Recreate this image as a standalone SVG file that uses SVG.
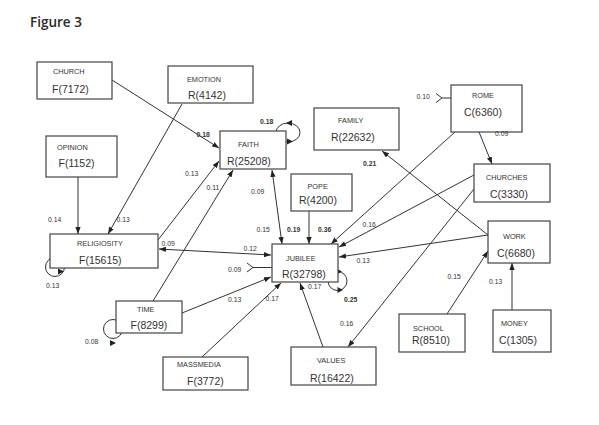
<svg xmlns="http://www.w3.org/2000/svg" width="599" height="425" viewBox="0 0 599 425">
<defs>
<style>
.box{fill:#fff;stroke:#444;stroke-width:1.2}
.lbl{font-family:"Liberation Sans",Arial,sans-serif;font-size:7.3px;fill:#333}
.val{font-family:"Liberation Sans",Arial,sans-serif;font-size:10.5px;fill:#333}
.num{font-family:"Liberation Sans",Arial,sans-serif;font-size:6.8px;fill:#333}
.b{font-weight:bold}
.ln{stroke:#333;stroke-width:1;fill:none}
.ar{fill:#222}
</style>
<marker id="ah" viewBox="0 0 8 6" refX="8" refY="3" markerWidth="7" markerHeight="5.5" markerUnits="userSpaceOnUse" orient="auto-start-reverse">
<path d="M0,0 L8,3 L0,6 z" fill="#222"/>
</marker>
</defs>
<rect width="599" height="425" fill="#fff"/>
<text x="30" y="27" font-family="'Open Sans','Liberation Sans',sans-serif" font-size="13.5" font-weight="600" fill="#2a2a2a">Figure 3</text>

<g id="connectors">
<line class="ln" x1="112" y1="80" x2="219" y2="148" marker-end="url(#ah)"/>
<line class="ln" x1="182" y1="104" x2="108" y2="234" marker-end="url(#ah)"/>
<line class="ln" x1="78" y1="177" x2="78" y2="234" marker-end="url(#ah)"/>
<line class="ln" x1="158" y1="240" x2="219" y2="161" marker-end="url(#ah)"/>
<line class="ln" x1="153" y1="301" x2="233" y2="170" marker-end="url(#ah)"/>
<line class="ln" x1="272" y1="170" x2="282" y2="244" marker-start="url(#ah)" marker-end="url(#ah)"/>
<line class="ln" x1="159" y1="249" x2="271" y2="255" marker-start="url(#ah)" marker-end="url(#ah)"/>
<line class="ln" x1="182" y1="313" x2="271" y2="277" marker-end="url(#ah)"/>
<line class="ln" x1="202" y1="357" x2="281" y2="283" marker-end="url(#ah)"/>
<line class="ln" x1="323" y1="347" x2="300" y2="283" marker-end="url(#ah)"/>
<line class="ln" x1="309" y1="211" x2="309" y2="244" marker-end="url(#ah)"/>
<line class="ln" x1="455" y1="132" x2="331" y2="244" marker-end="url(#ah)"/>
<line class="ln" x1="474" y1="175" x2="339" y2="247" marker-end="url(#ah)"/>
<line class="ln" x1="488" y1="235" x2="339" y2="257" marker-end="url(#ah)"/>
<line class="ln" x1="488" y1="235" x2="382" y2="151" marker-end="url(#ah)"/>
<line class="ln" x1="479" y1="132" x2="492" y2="164" marker-end="url(#ah)"/>
<line class="ln" x1="474" y1="189" x2="348" y2="347" marker-end="url(#ah)"/>
<line class="ln" x1="447" y1="314" x2="488" y2="251" marker-end="url(#ah)"/>
<line class="ln" x1="512" y1="310" x2="512" y2="263" marker-end="url(#ah)"/>
<path class="ln" d="M436,93.5 L442,98 L436,102.5 M442,98 H451"/>
<path class="ln" d="M247,263 L253,267.5 L247,272 M253,267.5 H272"/>
<ellipse class="ln" cx="288" cy="132.5" rx="12" ry="9.5"/>
<path class="ar" d="M286,123 L292,120 L292,126 z"/>
<path class="ar" d="M293,141.5 L287,138.5 L287,144.5 z"/>
<circle class="ln" cx="337.5" cy="281" r="9.5"/>
<path class="ar" d="M342,271.5 L336.5,268.5 L336.5,274.5 z"/>
<path class="ar" d="M343,290 L337.5,287 L337.5,293 z"/>
<circle class="ln" cx="55" cy="267" r="9.5"/>
<path class="ar" d="M49,258.5 L55,255.5 L55,261.5 z"/>
<path class="ar" d="M64,271.5 L58,268.5 L58,274.5 z"/>
<circle class="ln" cx="113" cy="329" r="9.5"/>
<path class="ar" d="M116,343 L110,340 L110,346 z"/>
</g>

<g id="church"><rect class="box" x="37" y="62" width="75" height="37"/><text class="lbl" x="53" y="74">CHURCH</text><text class="val" x="52" y="92.5">F(7172)</text></g>
<g id="emotion"><rect class="box" x="168" y="66" width="85" height="37"/><text class="lbl" x="187" y="82">EMOTION</text><text class="val" x="188" y="98.5">R(4142)</text></g>
<g id="faith"><rect class="box" x="220" y="131" width="66" height="38"/><text class="lbl" x="238" y="147">FAITH</text><text class="val" x="227" y="164.5">R(25208)</text></g>
<g id="family"><rect class="box" x="314" y="108" width="85" height="42"/><text class="lbl" x="338" y="123">FAMILY</text><text class="val" x="331" y="141">R(22632)</text></g>
<g id="rome"><rect class="box" x="451" y="85" width="71" height="47"/><text class="lbl" x="472" y="97.5">ROME</text><text class="val" x="464" y="116">C(6360)</text></g>
<g id="churches"><rect class="box" x="474" y="164" width="76" height="38"/><text class="lbl" x="486" y="180">CHURCHES</text><text class="val" x="490" y="198">C(3330)</text></g>
<g id="opinion"><rect class="box" x="46" y="136" width="71" height="41"/><text class="lbl" x="57" y="150">OPINION</text><text class="val" x="58.5" y="167">F(1152)</text></g>
<g id="pope"><rect class="box" x="291" y="174" width="61" height="37"/><text class="lbl" x="307.5" y="189">POPE</text><text class="val" x="299" y="204">R(4200)</text></g>
<g id="religiosity"><rect class="box" x="50" y="234" width="108" height="34"/><text class="lbl" x="77" y="245.5">RELIGIOSITY</text><text class="val" x="79" y="263.5">F(15615)</text></g>
<g id="jubilee"><rect class="box" x="272" y="244" width="66" height="38"/><text class="lbl" x="286" y="260.5">JUBILEE</text><text class="val" x="282" y="278">R(32798)</text></g>
<g id="work"><rect class="box" x="488" y="221" width="62" height="42"/><text class="lbl" x="503" y="239">WORK</text><text class="val" x="497" y="257">C(6680)</text></g>
<g id="time"><rect class="box" x="116" y="301" width="66" height="32"/><text class="lbl" x="137" y="311.5">TIME</text><text class="val" x="130.5" y="328.5">F(8299)</text></g>
<g id="school"><rect class="box" x="399" y="314" width="66" height="38"/><text class="lbl" x="413" y="331">SCHOOL</text><text class="val" x="412" y="344">R(8510)</text></g>
<g id="money"><rect class="box" x="493" y="310" width="58" height="42"/><text class="lbl" x="501" y="325.5">MONEY</text><text class="val" x="499" y="344">C(1305)</text></g>
<g id="massmedia"><rect class="box" x="163" y="357" width="85" height="33"/><text class="lbl" x="177" y="367">MASSMEDIA</text><text class="val" x="187" y="385">F(3772)</text></g>
<g id="values"><rect class="box" x="291" y="347" width="85" height="38"/><text class="lbl" x="317" y="363">VALUES</text><text class="val" x="310" y="382">R(16422)</text></g>

<g id="coefficients">
<text class="num b" x="196.5" y="136.5">0.18</text>
<text class="num" x="116.5" y="222">0.13</text>
<text class="num" x="48" y="222">0.14</text>
<text class="num" x="185" y="175.5">0.13</text>
<text class="num" x="206.5" y="190">0.11</text>
<text class="num b" x="260" y="123.5">0.18</text>
<text class="num" x="251" y="194">0.09</text>
<text class="num" x="256.5" y="231.5">0.15</text>
<text class="num b" x="287" y="232">0.19</text>
<text class="num b" x="318" y="232">0.36</text>
<text class="num" x="362.5" y="226.5">0.16</text>
<text class="num" x="243.5" y="251">0.12</text>
<text class="num" x="161.5" y="245.5">0.09</text>
<text class="num" x="228" y="272">0.09</text>
<text class="num" x="356.5" y="263">0.13</text>
<text class="num" x="308" y="289">0.17</text>
<text class="num b" x="344" y="302">0.25</text>
<text class="num" x="228" y="301.5">0.13</text>
<text class="num" x="265.5" y="301">0.17</text>
<text class="num" x="46" y="288">0.13</text>
<text class="num" x="85" y="344">0.08</text>
<text class="num" x="340" y="326">0.16</text>
<text class="num b" x="363" y="165.5">0.21</text>
<text class="num" x="416.5" y="99">0.10</text>
<text class="num" x="495" y="136">0.09</text>
<text class="num" x="447.5" y="279">0.15</text>
<text class="num" x="489" y="283.5">0.13</text>
</g>
</svg>
